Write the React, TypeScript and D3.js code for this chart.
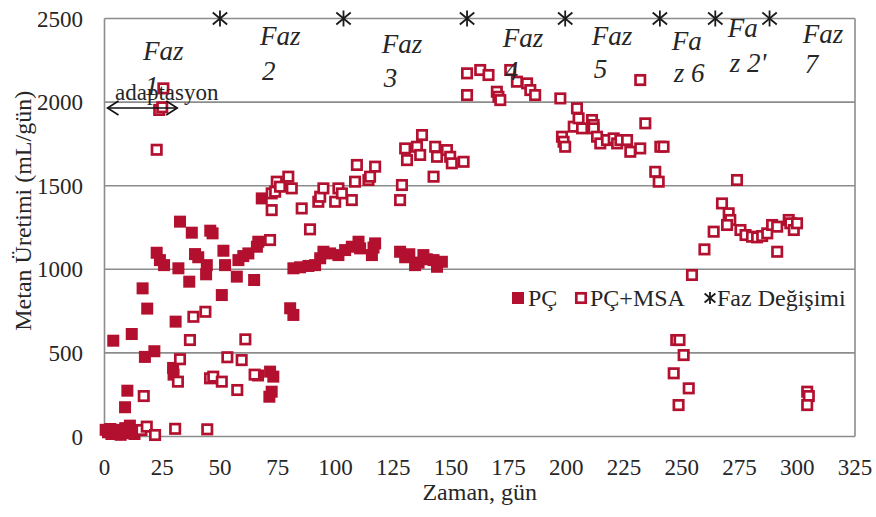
import React from "react";
import * as d3 from "d3";

// Daily methane production (mL/day) vs. time (days)
const pcSeries: [number, number][] = [
  [0.5, 40], [1.5, 25], [2.5, 45], [3, 15], [4, 35], [5, 20], [6, 40], [7, 10],
  [8, 30], [9, 50], [10, 20], [11, 65], [12, 35], [13, 15],
  [3.8, 573], [11.8, 613], [9.9, 274], [8.9, 175], [16.5, 886], [18.5, 765],
  [17.5, 476], [21.6, 510], [29.7, 410], [29.9, 370], [30.8, 687], [32.7, 1285],
  [37.8, 1219], [45.8, 1231], [46.8, 1215], [22.6, 1099], [24, 1055], [25.8, 1025],
  [32, 1006], [36.7, 926], [39.2, 1091], [40.6, 1072], [44.3, 1025], [44, 970],
  [51.5, 1111], [52.2, 1025], [50.8, 846], [57.3, 956], [58, 1055], [60.1, 1079],
  [62.3, 1095], [64.8, 936], [66, 1135], [66.6, 1165], [68.1, 1424], [80.4, 767],
  [81.8, 727], [71.7, 388], [73.1, 358], [72.4, 268], [71.4, 238], [66.5, 365],
  [81.8, 1006], [84.7, 1012], [88.3, 1020], [91.2, 1025], [93.4, 1066], [94.8, 1105],
  [97.7, 1095], [101.3, 1085], [104.2, 1115], [107.1, 1135], [110, 1165], [110.7, 1125],
  [115.8, 1085], [117.2, 1155], [116.5, 1130],
  [128, 1105], [130.2, 1072], [132, 1090], [134.5, 1025], [136, 1040], [138.1, 1085],
  [139.6, 1060], [142.5, 1055], [144, 1015], [146.1, 1045],
];

const pcMsaSeries: [number, number][] = [
  [16, 39], [18.3, 59], [21.9, 9], [30.6, 46], [44.5, 43], [17, 242],
  [22.6, 1715], [23.7, 1953], [25, 1969], [25.5, 2082],
  [32.7, 462], [31.8, 328], [37, 577], [38.5, 716], [43.7, 746], [45.7, 348],
  [47.1, 358], [50.8, 328], [53.2, 474], [59.4, 457], [57.5, 278], [61, 581], [65, 370],
  [71.7, 1175], [72.4, 1354], [72.4, 1454], [73.9, 1464], [74.6, 1524], [76, 1494],
  [79.6, 1554], [81.1, 1484], [85.4, 1364], [89, 1239], [92.6, 1404], [93.4, 1434],
  [94.8, 1484], [99.9, 1404], [101.3, 1484], [102.8, 1454], [107.1, 1414], [108.5, 1524],
  [109.3, 1624], [114.3, 1534], [115, 1554], [117.2, 1614],
  [128, 1414], [128.8, 1504], [130.2, 1723], [131, 1653], [135.3, 1733], [136.7, 1684],
  [137.5, 1803], [142.5, 1554], [143.2, 1733], [144, 1673], [148.3, 1713], [149.7, 1673],
  [150.4, 1634], [155.5, 1643],
  [157, 2172], [157, 2042], [162.7, 2192], [166.3, 2162], [169.9, 2062], [170.6, 2032],
  [171.4, 2012], [175.7, 2192], [178.6, 2122], [183, 2112], [184.4, 2072], [186.5, 2042],
  [197.4, 2022], [204.6, 1963], [203.2, 1853], [198.1, 1793], [198.8, 1763], [199.5, 1733],
  [205.3, 1903], [206.8, 1843], [211.1, 1893], [211.8, 1863], [211.8, 1843], [213.3, 1793],
  [214.7, 1753], [217.6, 1773], [220.5, 1783], [222, 1753], [223.4, 1773], [226.3, 1773],
  [227.7, 1703], [232, 1723], [232, 2132], [234.2, 1873], [240.7, 1733], [242.1, 1733],
  [238.5, 1583], [240, 1524],
  [247.6, 577], [249, 577], [250.8, 487], [246.5, 378], [253, 288], [248.6, 188],
  [254.4, 966], [259.8, 1119], [263.8, 1225], [267.4, 1394], [270.3, 1335], [271, 1295],
  [269.6, 1265], [273.9, 1534], [275.4, 1235], [277.6, 1205], [280.4, 1195], [282.6, 1191],
  [284.8, 1199], [287, 1215], [289.1, 1265], [291.3, 1255], [291.3, 1105], [296.3, 1295],
  [297, 1275], [298.5, 1235], [299.9, 1275],
  [304.3, 268], [305, 242], [304.3, 188],
];

// Days on which the operating phase changed
const phaseChangeDays = [50, 103.5, 157, 199.5, 240.5, 264.5, 288];
const phaseChangeLevel = 2500;

// Phase labels (two lines each), anchored by day and by the value of each baseline
const phaseLine1 = ["Faz", "Faz", "Faz", "Faz", "Faz", "Fa", "Fa", "Faz"];
const phaseLine2 = ["1", "2", "3", "4", "5", "z 6", "z 2'", "7"];
const phaseDay = [16.7, 67.3, 120.1, 172.5, 211, 245.6, 269.9, 302.4];
const phaseValue1 = [2251, 2341, 2293, 2329, 2341, 2311, 2389, 2353];
const phaseValue2 = [2042, 2132, 2090, 2132, 2144, 2120, 2180, 2174];

// Adaptation period marked by a double arrow
const adaptationStart = 1.3;
const adaptationEnd = 31.5;

const xTicks = d3.range(0, 326, 25);
const yTicks = d3.range(0, 2501, 500);

const RED = "#b3102f";
const GRID = "#8c8c8c";
const TEXT = "#262626";
const FONT = "'Liberation Serif', 'Times New Roman', serif";

function Asterisk({ x, y, r }: { x: number; y: number; r: number }) {
  const dx = r * 0.9;
  const dy = r * 0.75;
  return (
    <g stroke="#1a1a1a" strokeWidth={1.8} fill="none">
      <line x1={x} y1={y - r} x2={x} y2={y + r} />
      <line x1={x - dx} y1={y - dy} x2={x + dx} y2={y + dy} />
      <line x1={x - dx} y1={y + dy} x2={x + dx} y2={y - dy} />
    </g>
  );
}

export default function App() {
  const width = 876;
  const height = 517;
  const x = d3.scaleLinear().domain([0, 325]).range([104.5, 855]);
  const y = d3.scaleLinear().domain([0, 2500]).range([436.5, 18.5]);
  const filled = 12;
  const hollow = 9.4;
  const arrowY = 108;
  const ax0 = x(adaptationStart);
  const ax1 = x(adaptationEnd);

  return (
    <svg
      width={width}
      height={height}
      style={{ position: "absolute", left: 0, top: 0, background: "#fff", fontFamily: FONT }}
      fontFamily={FONT}
    >
      {/* gridlines and plot frame */}
      {yTicks.map((t) => (
        <line key={t} x1={x(0)} x2={x(325)} y1={y(t)} y2={y(t)} stroke={GRID} strokeWidth={1.6} />
      ))}
      <line x1={x(0)} x2={x(0)} y1={y(0)} y2={y(2500)} stroke={GRID} strokeWidth={1.6} />
      <line x1={x(325)} x2={x(325)} y1={y(0)} y2={y(2500)} stroke={GRID} strokeWidth={1.6} />

      {/* tick labels */}
      {yTicks.map((t) => (
        <text key={t} x={83} y={y(t)} dy="0.35em" textAnchor="end" fontSize={23} fill={TEXT}>
          {t}
        </text>
      ))}
      {xTicks.map((t) => (
        <text key={t} x={x(t)} y={475} textAnchor="middle" fontSize={23} fill={TEXT}>
          {t}
        </text>
      ))}

      {/* axis titles */}
      <text x={x(162.5)} y={500} textAnchor="middle" fontSize={24} fill={TEXT}>
        Zaman, gün
      </text>
      <text
        transform={`translate(31, ${y(1350)}) rotate(-90)`}
        textAnchor="middle"
        fontSize={24}
        fill={TEXT}
      >
        Metan Üretimi (mL/gün)
      </text>

      {/* PÇ series */}
      {pcSeries.map(([d, v], i) => (
        <rect
          key={`pc${i}`}
          x={x(d) - filled / 2}
          y={y(v) - filled / 2}
          width={filled}
          height={filled}
          fill={RED}
        />
      ))}

      {/* PÇ+MSA series */}
      {pcMsaSeries.map(([d, v], i) => (
        <rect
          key={`msa${i}`}
          x={x(d) - hollow / 2}
          y={y(v) - hollow / 2}
          width={hollow}
          height={hollow}
          fill="#fff"
          stroke={RED}
          strokeWidth={2.7}
        />
      ))}

      {/* phase change markers */}
      {phaseChangeDays.map((d, i) => (
        <Asterisk key={i} x={x(d)} y={y(phaseChangeLevel)} r={8} />
      ))}

      {/* phase labels, drawn over the markers */}
      {phaseLine1.map((s, i) => (
        <g key={i} fontStyle="italic" fontSize={27} fill={TEXT}>
          <text x={x(phaseDay[i])} y={y(phaseValue1[i])}>{s}</text>
          <text x={x(phaseDay[i]) + 2} y={y(phaseValue2[i])}>{phaseLine2[i]}</text>
        </g>
      ))}

      {/* adaptation period annotation */}
      <text x={115} y={100} fontSize={23} fill={TEXT}>adaptasyon</text>
      <g stroke="#111" strokeWidth={1.6} fill="none">
        <line x1={ax0} x2={ax1} y1={arrowY} y2={arrowY} />
        <polyline points={`${ax0 + 11},${arrowY - 7} ${ax0},${arrowY} ${ax0 + 11},${arrowY + 7}`} />
        <polyline points={`${ax1 - 11},${arrowY - 7} ${ax1},${arrowY} ${ax1 - 11},${arrowY + 7}`} />
      </g>

      {/* legend */}
      <g fontSize={24} fill={TEXT}>
        <rect x={512} y={292} width={12} height={12} fill={RED} />
        <text x={528} y={298} dy="0.35em">PÇ</text>
        <rect x={576.3} y={293.3} width={9.4} height={9.4} fill="#fff" stroke={RED} strokeWidth={2.7} />
        <text x={590} y={298} dy="0.35em">PÇ+MSA</text>
        <Asterisk x={710} y={298} r={6} />
        <text x={717} y={298} dy="0.35em">Faz Değişimi</text>
      </g>
    </svg>
  );
}
